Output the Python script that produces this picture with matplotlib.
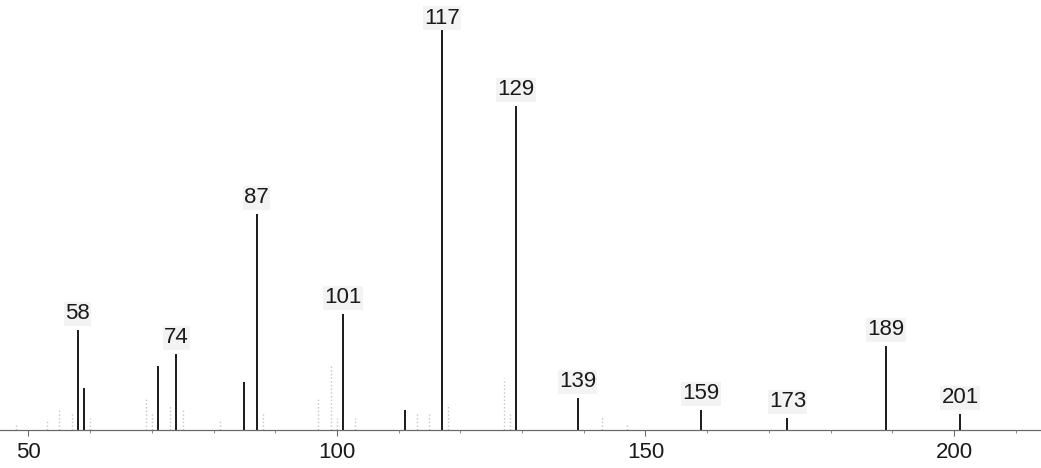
import matplotlib
matplotlib.use("Agg")
import matplotlib.pyplot as plt

plt.rcParams['font.family'] = ['Liberation Sans', 'DejaVu Sans']

# Labelled fragment ions (m/z) and relative abundance (%)
major_mz = [58, 59, 71, 74, 85, 87, 101, 111, 117, 129, 139, 159, 173, 189, 201]
major_int = [25, 10.5, 16, 19, 12, 54, 29, 5, 100, 81, 8, 5, 3, 21, 4]
labelled_mz = [58, 74, 87, 101, 117, 129, 139, 159, 173, 189, 201]

# Weak background ions
minor_mz = [48, 53, 55, 57, 60, 69, 70, 73, 75, 81, 88, 97, 99, 100, 103,
            113, 115, 118, 127, 128, 143, 147]
minor_int = [1.5, 2.5, 5.5, 4, 3, 8, 4, 6, 5, 2.5, 4, 8, 16, 3, 3,
             4.5, 4, 6.5, 13, 4.5, 3.5, 1.5]

tick_values = [50, 100, 150, 200]

fig = plt.figure(figsize=(10.41, 4.68), dpi=100)
ax = fig.add_axes([0, 0, 1, 1])

ax.vlines(minor_mz, 0, minor_int, colors='#c4c4c4', linestyles=':', linewidth=1.0)
ax.vlines(major_mz, 0, major_int, colors='#1a1a1a', linewidth=1.4)

lookup = dict(zip(major_mz, major_int))
for mz in labelled_mz:
    lift = 1 if mz == 117 else 4
    ax.annotate(str(mz), xy=(mz, lookup[mz]), xytext=(0, lift),
                textcoords='offset points', ha='center', va='bottom',
                fontsize=16, color='#1a1a1a',
                bbox=dict(boxstyle='square,pad=0.05', fc='#f3f3f3', ec='none'))

ax.set_xlim(45.4, 214.1)
ax.set_ylim(-9.5, 107.5)

for side in ('top', 'right', 'left'):
    ax.spines[side].set_visible(False)
ax.spines['bottom'].set_position(('data', 0))
ax.spines['bottom'].set_color('#6a6a6a')
ax.spines['bottom'].set_linewidth(0.9)

ax.set_yticks([])
ax.set_xticks(tick_values)
ax.set_xticklabels([str(v) for v in tick_values])
ax.set_xticks(range(50, 215, 10), minor=True)
ax.tick_params(axis='x', which='major', direction='out', length=4, width=0.8,
               color='#6a6a6a', pad=5, labelsize=16, labelcolor='#1a1a1a')
ax.tick_params(axis='x', which='minor', direction='out', length=2.5, width=0.7,
               color='#8a8a8a')

fig.savefig('out.png', dpi=100, facecolor='white')
